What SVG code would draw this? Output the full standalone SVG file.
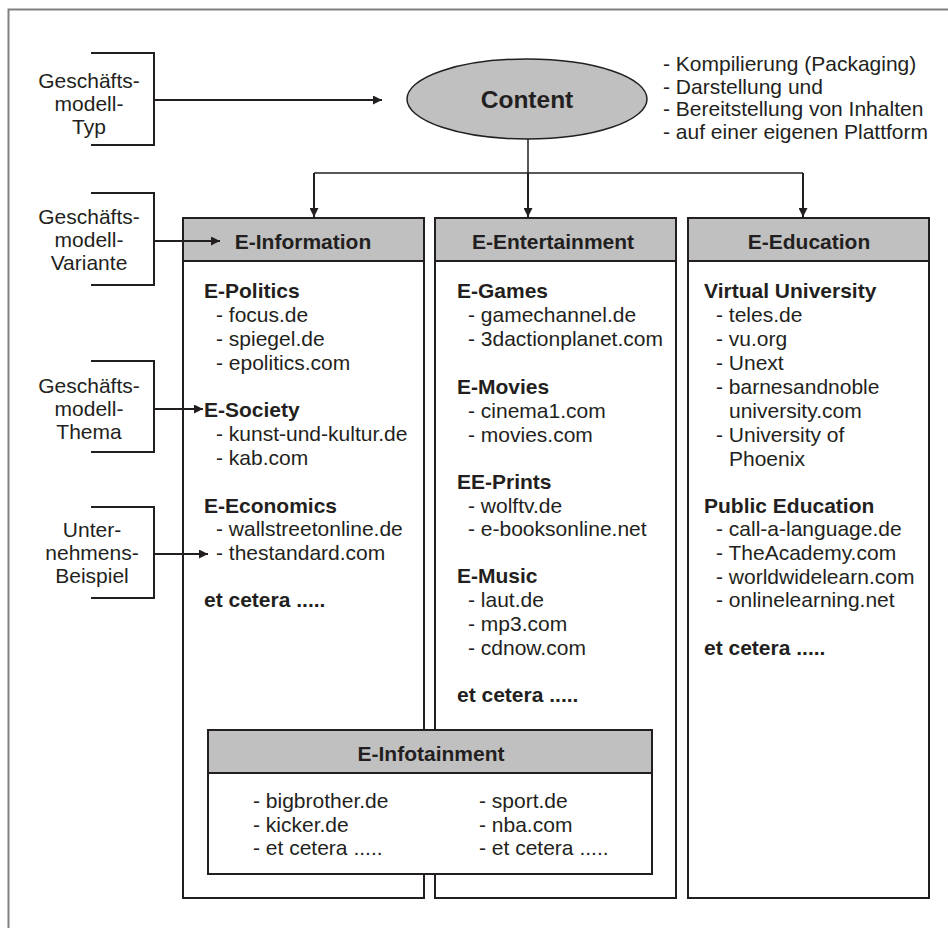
<svg xmlns="http://www.w3.org/2000/svg" width="948" height="928" viewBox="0 0 948 928">
<defs>
<marker id="ah" viewBox="0 0 10 10" refX="10" refY="5" markerWidth="10" markerHeight="9" markerUnits="userSpaceOnUse" orient="auto">
<path d="M0,0 L10,5 L0,10 z" fill="#231f20"/>
</marker>
<style>
text{font-family:"Liberation Sans",Arial,sans-serif;font-size:21px;fill:#231f20}
.b{font-weight:bold}
.c{text-anchor:middle}
.box{fill:#fff;stroke:#231f20;stroke-width:2}
.hd{fill:#c0c0c0;stroke:#231f20;stroke-width:2}
.ln{fill:none;stroke:#231f20;stroke-width:2}
.br{fill:none;stroke:#231f20;stroke-width:2}
</style>
</defs>
<rect width="948" height="928" fill="#fff"/>
<path d="M8.5,928 V9.5 H948" fill="none" stroke="#808080" stroke-width="2"/>

<g id="label-typ">
<path class="br" d="M91,53 H154 V145 H91"/>
<text class="c" x="89" y="88">Geschäfts-</text>
<text class="c" x="89" y="111">modell-</text>
<text class="c" x="89" y="134">Typ</text>
</g>
<g id="label-variante">
<path class="br" d="M91,193 H154 V285 H91"/>
<text class="c" x="89" y="224">Geschäfts-</text>
<text class="c" x="89" y="247">modell-</text>
<text class="c" x="89" y="270">Variante</text>
</g>
<g id="label-thema">
<path class="br" d="M91,361 H154 V452 H91"/>
<text class="c" x="89" y="393">Geschäfts-</text>
<text class="c" x="89" y="416">modell-</text>
<text class="c" x="89" y="439">Thema</text>
</g>
<g id="label-beispiel">
<path class="br" d="M91,507 H154 V598 H91"/>
<text class="c" x="92" y="537">Unter-</text>
<text class="c" x="92" y="560">nehmens-</text>
<text class="c" x="92" y="583">Beispiel</text>
</g>

<g id="content">
<ellipse cx="527" cy="99" rx="120" ry="40" fill="#c0c0c0" stroke="#231f20" stroke-width="1.5"/>
<text class="b c" x="527" y="108" style="font-size:24.5px">Content</text>
</g>
<g id="content-desc">
<text x="663" y="71">- Kompilierung (Packaging)</text>
<text x="663" y="94">- Darstellung und</text>
<text x="663" y="116">- Bereitstellung von Inhalten</text>
<text x="663" y="139">- auf einer eigenen Plattform</text>
</g>

<g id="e-information">
<rect class="box" x="183" y="218" width="241" height="680"/>
<rect class="hd" x="183" y="218" width="241" height="43"/>
<text class="b c" x="303" y="248.5">E-Information</text>
<text class="b" x="204" y="298">E-Politics</text>
<text x="216" y="322">- focus.de</text>
<text x="216" y="346">- spiegel.de</text>
<text x="216" y="370">- epolitics.com</text>
<text class="b" x="204" y="417">E-Society</text>
<text x="216" y="441">- kunst-und-kultur.de</text>
<text x="216" y="465">- kab.com</text>
<text class="b" x="204" y="513">E-Economics</text>
<text x="216" y="536">- wallstreetonline.de</text>
<text x="216" y="560">- thestandard.com</text>
<text class="b" x="204" y="607">et cetera .....</text>
</g>

<g id="e-entertainment">
<rect class="box" x="435" y="218" width="241" height="680"/>
<rect class="hd" x="435" y="218" width="241" height="43"/>
<text class="b c" x="553" y="248.5">E-Entertainment</text>
<text class="b" x="457" y="298">E-Games</text>
<text x="468" y="322">- gamechannel.de</text>
<text x="468" y="346">- 3dactionplanet.com</text>
<text class="b" x="457" y="394">E-Movies</text>
<text x="468" y="418">- cinema1.com</text>
<text x="468" y="442">- movies.com</text>
<text class="b" x="457" y="489">EE-Prints</text>
<text x="468" y="513">- wolftv.de</text>
<text x="468" y="536">- e-booksonline.net</text>
<text class="b" x="457" y="583">E-Music</text>
<text x="468" y="607">- laut.de</text>
<text x="468" y="631">- mp3.com</text>
<text x="468" y="655">- cdnow.com</text>
<text class="b" x="457" y="702">et cetera .....</text>
</g>

<g id="e-education">
<rect class="box" x="688" y="218" width="241" height="680"/>
<rect class="hd" x="688" y="218" width="241" height="43"/>
<text class="b c" x="809" y="248.5">E-Education</text>
<text class="b" x="704" y="298">Virtual University</text>
<text x="716" y="322">- teles.de</text>
<text x="716" y="346">- vu.org</text>
<text x="716" y="370">- Unext</text>
<text x="716" y="394">- barnesandnoble</text>
<text x="729" y="418">university.com</text>
<text x="716" y="442">- University of</text>
<text x="729" y="466">Phoenix</text>
<text class="b" x="704" y="513">Public Education</text>
<text x="716" y="536">- call-a-language.de</text>
<text x="716" y="560">- TheAcademy.com</text>
<text x="716" y="584">- worldwidelearn.com</text>
<text x="716" y="607">- onlinelearning.net</text>
<text class="b" x="704" y="655">et cetera .....</text>
</g>

<g id="e-infotainment">
<rect class="box" x="208" y="730" width="444" height="144"/>
<rect class="hd" x="208" y="730" width="444" height="43"/>
<text class="b c" x="431" y="760.5">E-Infotainment</text>
<text x="253" y="808">- bigbrother.de</text>
<text x="253" y="832">- kicker.de</text>
<text x="253" y="855">- et cetera .....</text>
<text x="479" y="808">- sport.de</text>
<text x="479" y="832">- nba.com</text>
<text x="479" y="855">- et cetera .....</text>
</g>

<g id="connectors">
<line class="ln" x1="154" y1="100" x2="382" y2="100" marker-end="url(#ah)"/>
<line class="ln" x1="154" y1="241" x2="220" y2="241" marker-end="url(#ah)"/>
<line class="ln" x1="154" y1="409" x2="203" y2="409" marker-end="url(#ah)"/>
<line class="ln" x1="154" y1="554" x2="208" y2="554" marker-end="url(#ah)"/>
<line x1="528" y1="139" x2="528" y2="173" stroke="#231f20" stroke-width="1.5"/>
<path d="M314,173 H803" fill="none" stroke="#231f20" stroke-width="1.5"/>
<line class="ln" x1="314" y1="173" x2="314" y2="217" marker-end="url(#ah)"/>
<line class="ln" x1="528" y1="173" x2="528" y2="217" marker-end="url(#ah)"/>
<line class="ln" x1="803" y1="173" x2="803" y2="217" marker-end="url(#ah)"/>
</g>
</svg>
